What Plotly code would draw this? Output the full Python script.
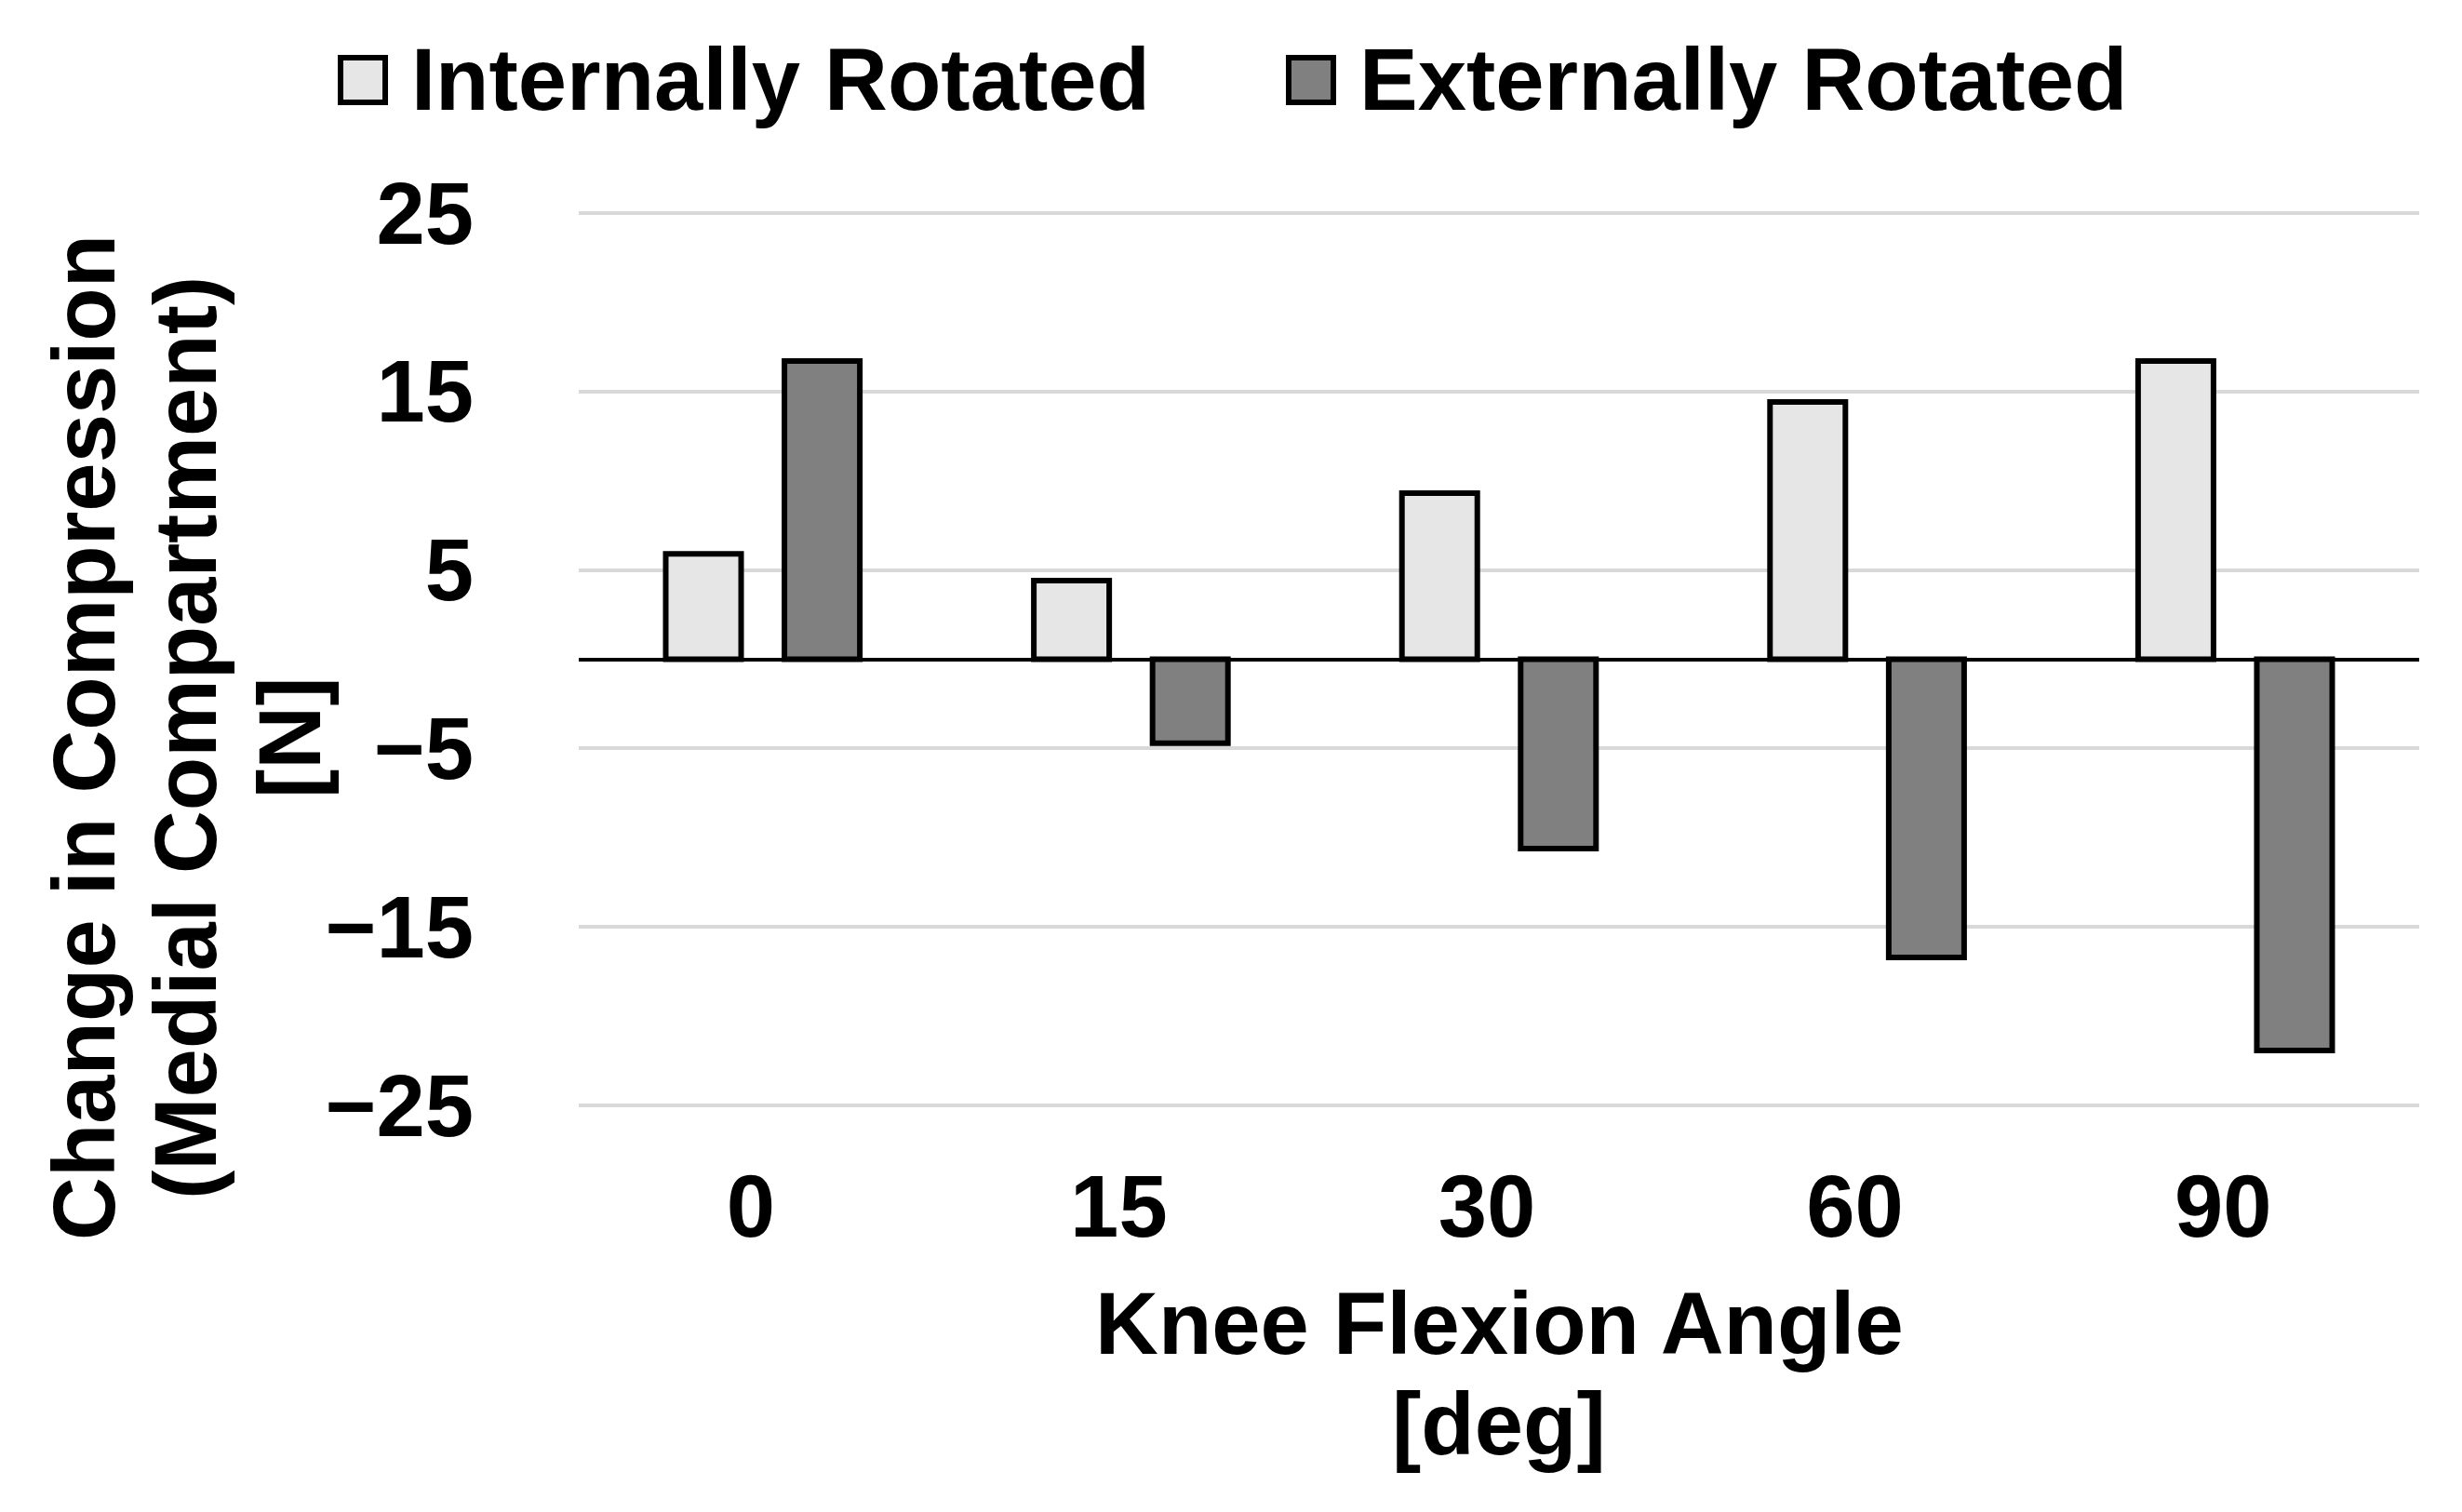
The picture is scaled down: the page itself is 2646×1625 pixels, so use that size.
import plotly.graph_objects as go

categories = ["0", "15", "30", "60", "90"]
internally_rotated = [5.9, 4.4, 9.3, 14.4, 16.7]
externally_rotated = [16.7, -4.7, -10.6, -16.7, -21.9]
series_names = ["Internally Rotated", "Externally Rotated"]
y_tick_values = [-25, -15, -5, 5, 15, 25]

W, H = 2646, 1625
L, R, T, B = 614, 54, 211, 435
PW, PH = W - L - R, H - T - B
FONT = "Liberation Sans, Arial, sans-serif"
IR_COLOR = "#e6e6e6"
ER_COLOR = "#808080"
OFF = 8  # page offset


def px_x(x):
    return (x - OFF - L) / PW


def px_y(y):
    return (H - B - (y - OFF)) / PH


fig = go.Figure()
fig.add_trace(go.Bar(x=categories, y=internally_rotated, name=series_names[0],
                     marker=dict(color=IR_COLOR, line=dict(color="black", width=6))))
fig.add_trace(go.Bar(x=categories, y=externally_rotated, name=series_names[1],
                     marker=dict(color=ER_COLOR, line=dict(color="black", width=6))))

annotations = []
# axis titles
for text, xp in [("Change in Compression", 91), ("(Medial Compartment)", 200), ("[N]", 312)]:
    annotations.append(dict(text=text, x=px_x(xp), y=px_y(793), xref="paper", yref="paper",
                            xanchor="center", yanchor="middle", textangle=-90, showarrow=False,
                            font=dict(family=FONT, size=94, color="black", weight="bold")))
for text, yp in [("Knee Flexion Angle", 1422), ("[deg]", 1530)]:
    annotations.append(dict(text=text, x=px_x(1611), y=px_y(yp), xref="paper", yref="paper",
                            xanchor="center", yanchor="middle", showarrow=False,
                            font=dict(family=FONT, size=94, color="black", weight="bold")))

# manual legend
shapes = []
legend_items = [(series_names[0], IR_COLOR, 366, 440), (series_names[1], ER_COLOR, 1385, 1459)]
for name, color, sx, tx in legend_items:
    shapes.append(dict(type="rect", xref="paper", yref="paper",
                       x0=px_x(sx), x1=px_x(sx + 48), y0=px_y(110), y1=px_y(62),
                       fillcolor=color, line=dict(color="black", width=6)))
    annotations.append(dict(text=name, x=px_x(tx), y=px_y(85.5), xref="paper", yref="paper",
                            xanchor="left", yanchor="middle", showarrow=False,
                            font=dict(family=FONT, size=94, color="black", weight="bold")))

fig.update_layout(
    width=W, height=H,
    margin=dict(l=L, r=R, t=T, b=B, autoexpand=False),
    paper_bgcolor="white", plot_bgcolor="white",
    barmode="group", bargap=0.355, bargroupgap=0.365,
    showlegend=False,
    annotations=annotations, shapes=shapes,
    font=dict(family=FONT, color="black"),
)
fig.update_xaxes(
    type="category", showgrid=False, showline=False, ticks="",
    tickfont=dict(family=FONT, size=94, color="black", weight="bold"),
    ticklabelstandoff=36, ticklabelshift=-13,
)
fig.update_yaxes(
    range=[-25.5, 25.5], tickvals=y_tick_values, showgrid=True, gridcolor="#d9d9d9", gridwidth=4,
    zeroline=True, zerolinecolor="black", zerolinewidth=4, showline=False, ticks="",
    tickfont=dict(family=FONT, size=94, color="black", weight="bold"),
    ticklabelstandoff=112,
)

fig.write_html("out.html")
